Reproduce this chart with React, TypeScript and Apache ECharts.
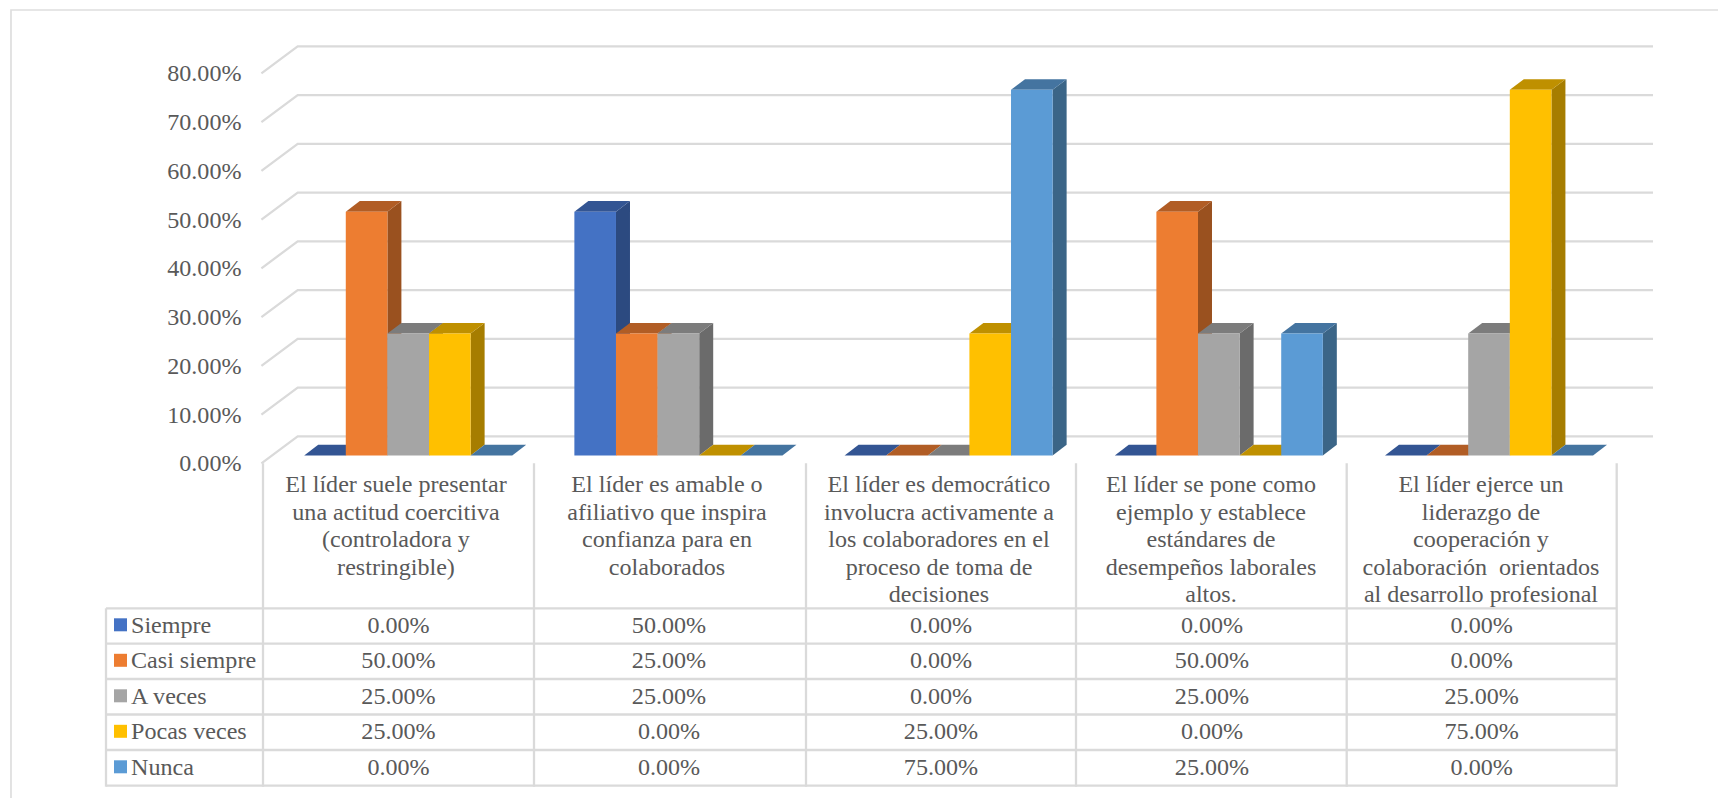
import React, { useEffect, useRef } from "react";
import * as echarts from "echarts";

const seriesNames = ["Siempre", "Casi siempre", "A veces", "Pocas veces", "Nunca"];
const siempre = [0, 50, 0, 0, 0];
const casiSiempre = [50, 25, 0, 50, 0];
const aVeces = [25, 25, 0, 25, 25];
const pocasVeces = [25, 0, 25, 0, 75];
const nunca = [0, 0, 75, 25, 0];
const categories = [
  "El líder suele presentar\nuna actitud coercitiva\n(controladora y\nrestringible)",
  "El líder es amable o\nafiliativo que inspira\nconfianza para en\ncolaborados",
  "El líder es democrático\ninvolucra activamente a\nlos colaboradores en el\nproceso de toma de\ndecisiones",
  "El líder se pone como\nejemplo y establece\nestándares de\ndesempeños laborales\naltos.",
  "El líder ejerce un\nliderazgo de\ncooperación y\ncolaboración  orientados\nal desarrollo profesional",
];
const gridTicks = [0, 10, 20, 30, 40, 50, 60, 70, 80];

const allValues = [siempre, casiSiempre, aVeces, pocasVeces, nunca];
const frontColors = ["#4472C4", "#ED7D31", "#A5A5A5", "#FFC000", "#5B9BD5"];
const topColors = ["#335593", "#B15D25", "#7C7C7C", "#BF9000", "#4474A0"];
const sideColors = ["#2C4A80", "#9A511F", "#6B6B6B", "#A67D00", "#3B6587"];

const W = 1718;
const H = 798;
const FONT = "'Liberation Serif', 'Times New Roman', serif";
const TEXT = "#595959";
const LINE = "#DADADA";
const FONT_SIZE = 24.1;

// Grid rectangle is the front plane of the 3D box; the wall sits behind it.
const GRID = { left: 263, width: 1351, top: 73.3, height: 390 };
const WALL = { x0: 261.4, x1: 297.7, right: 1653, rise: 27 };
const BAR = { shiftX: 10.1, liftY: 7.9, ratio: 0.154, depthX: 14, depthY: 10.6 };

// Data table geometry
const COL_X = [263, 534, 806, 1076, 1346.7, 1616.7];
const COL_TEXT_X = [396, 667, 939, 1211, 1481];
const COL_VALUE_X = [398.5, 669, 941, 1212, 1481.7];
const ROW_Y = [608.3, 643.7, 679, 714.5, 750, 785.7];
const TABLE_LEFT = 106;

const lineEl = (x1: number, y1: number, x2: number, y2: number) => ({
  type: "line",
  silent: true,
  shape: { x1, y1, x2, y2 },
  style: { stroke: LINE, lineWidth: 2.3, fill: "none" },
});

function buildGraphic() {
  const els: any[] = [];
  els.push({
    type: "rect",
    silent: true,
    shape: { x: 11, y: 10, width: W + 20, height: H + 20 },
    style: { fill: "none", stroke: "#DEDEDE", lineWidth: 1.7 },
  });
  COL_X.forEach((x) => els.push(lineEl(x, 463.3, x, ROW_Y[5] + 1)));
  ROW_Y.forEach((y) => els.push(lineEl(TABLE_LEFT, y, COL_X[5], y)));
  els.push(lineEl(TABLE_LEFT, ROW_Y[0], TABLE_LEFT, ROW_Y[5] + 1));

  categories.forEach((label, c) => {
    els.push({
      type: "text",
      silent: true,
      style: {
        x: COL_TEXT_X[c],
        y: 470.2,
        text: label,
        align: "center",
        verticalAlign: "top",
        fill: TEXT,
        fontFamily: FONT,
        fontSize: FONT_SIZE,
        lineHeight: 27.6,
      },
    });
    allValues.forEach((vals, r) => {
      els.push({
        type: "text",
        silent: true,
        style: {
          x: COL_VALUE_X[c],
          y: (ROW_Y[r] + ROW_Y[r + 1]) / 2 - 1,
          text: vals[c].toFixed(2) + "%",
          align: "center",
          verticalAlign: "middle",
          fill: TEXT,
          fontFamily: FONT,
          fontSize: FONT_SIZE,
        },
      });
    });
  });
  return els;
}

// L-shaped gridline: slanted floor edge on the side wall, then flat along the back wall.
const renderWallLine = (_p: any, api: any) => {
  const y = api.coord([0, api.value(1)])[1];
  return {
    type: "polyline",
    silent: true,
    shape: {
      points: [
        [WALL.x0, y],
        [WALL.x1, y - WALL.rise],
        [WALL.right, y - WALL.rise],
      ],
    },
    style: { stroke: LINE, lineWidth: 2.3, fill: "none" },
  };
};

// One 3D column: front face, then the top and right faces.
const renderBar = (s: number) => (_p: any, api: any) => {
  const [cx, yTop0] = api.coord([api.value(0), api.value(1)]);
  const [, yBase0] = api.coord([api.value(0), 0]);
  const w = api.size([1, 0])[0] * BAR.ratio;
  const x = cx + BAR.shiftX + (s - 2.5) * w;
  const yTop = yTop0 - BAR.liftY;
  const yBase = yBase0 - BAR.liftY;
  const dx = BAR.depthX;
  const dy = BAR.depthY;
  return {
    type: "group",
    silent: true,
    children: [
      {
        type: "polygon",
        shape: { points: [[x + w, yTop], [x + w + dx, yTop - dy], [x + w + dx, yBase - dy], [x + w, yBase]] },
        style: { fill: sideColors[s] },
      },
      {
        type: "polygon",
        shape: { points: [[x, yTop], [x + dx, yTop - dy], [x + w + dx, yTop - dy], [x + w, yTop]] },
        style: { fill: topColors[s] },
      },
      {
        type: "rect",
        shape: { x, y: yTop, width: w, height: yBase - yTop },
        style: { fill: frontColors[s] },
      },
    ],
  };
};

export default function App() {
  const ref = useRef<HTMLDivElement>(null);

  useEffect(() => {
    document.body.style.margin = "0";
    document.body.style.overflow = "hidden";
    const chart = echarts.init(ref.current!, undefined, { renderer: "svg" });
    chart.setOption({
      animation: false,
      backgroundColor: "#FFFFFF",
      grid: { left: GRID.left, top: GRID.top, width: GRID.width, height: GRID.height },
      xAxis: {
        type: "category",
        data: categories,
        axisLine: { show: false },
        axisTick: { show: false },
        axisLabel: { show: false },
        splitLine: { show: false },
      },
      yAxis: {
        type: "value",
        min: 0,
        max: 80,
        interval: 10,
        axisLine: { show: false },
        axisTick: { show: false },
        splitLine: { show: false },
        axisLabel: {
          margin: 21.5,
          color: TEXT,
          fontFamily: FONT,
          fontSize: FONT_SIZE,
          formatter: (v: number) => v.toFixed(2) + "%",
        },
      },
      legend: {
        data: seriesNames,
        orient: "vertical",
        left: 114,
        top: ROW_Y[0] + 4.5,
        padding: 0,
        itemWidth: 13,
        itemHeight: 13,
        itemGap: 11.5,
        icon: "rect",
        selectedMode: false,
        textStyle: {
          color: TEXT,
          fontFamily: FONT,
          fontSize: FONT_SIZE,
          lineHeight: 24,
          padding: [0, 0, 0, -1],
        },
      },
      graphic: { elements: buildGraphic() },
      series: [
        {
          type: "custom",
          name: "wall",
          silent: true,
          z: 1,
          renderItem: renderWallLine,
          encode: { x: 0, y: 1 },
          data: gridTicks.map((t) => [0, t]),
        },
        ...seriesNames.map((name, s) => ({
          type: "custom",
          name,
          silent: true,
          z: 2,
          itemStyle: { color: frontColors[s] },
          renderItem: renderBar(s),
          encode: { x: 0, y: 1 },
          data: allValues[s].map((v, c) => [c, v]),
        })),
      ],
    });
    return () => chart.dispose();
  }, []);

  return <div ref={ref} style={{ width: W, height: H }} />;
}
